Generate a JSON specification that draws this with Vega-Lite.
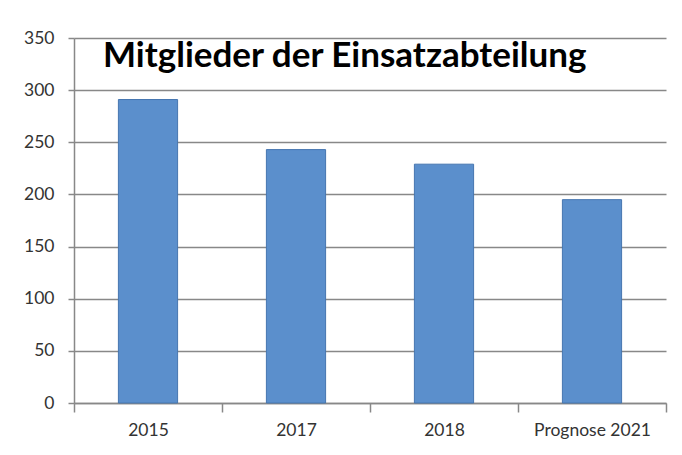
{
  "$schema": "https://vega.github.io/schema/vega-lite/v6.json",
  "autosize": "none",
  "width": 592,
  "height": 365,
  "padding": {"left": 74, "top": 38, "right": 16, "bottom": 52},
  "background": "white",
  "title": {
    "text": "Mitglieder der Einsatzabteilung",
    "orient": "top",
    "anchor": "start",
    "frame": "group",
    "baseline": "top",
    "offset": -3,
    "dx": 29,
    "dy": 42,
    "font": "Lato",
    "fontSize": 35,
    "fontWeight": "bold",
    "color": "#000000"
  },
  "data": {
    "values": [
      {"jahr": "2015", "mitglieder": 291},
      {"jahr": "2017", "mitglieder": 243},
      {"jahr": "2018", "mitglieder": 229},
      {"jahr": "Prognose 2021", "mitglieder": 195}
    ]
  },
  "mark": {"type": "bar", "color": "#5b8fcc", "stroke": "#4676b0", "strokeWidth": 1, "width": {"band": 0.4}},
  "encoding": {
    "x": {
      "field": "jahr",
      "type": "nominal",
      "sort": null,
      "scale": {"paddingInner": 0, "paddingOuter": 0},
      "axis": {
        "title": null,
        "labelAngle": 0,
        "tickBand": "extent",
        "tickSize": 9,
        "tickColor": "#888888",
        "tickWidth": 1.5,
        "domainColor": "#888888",
        "domainWidth": 1.5,
        "labelPadding": 9,
        "labelFont": "Lato",
        "labelFontSize": 17.5,
        "labelColor": "#333333",
        "grid": false
      }
    },
    "y": {
      "field": "mitglieder",
      "type": "quantitative",
      "scale": {"domain": [0, 350], "nice": false},
      "axis": {
        "title": null,
        "values": [0, 50, 100, 150, 200, 250, 300, 350],
        "tickSize": 6,
        "tickColor": "#888888",
        "tickWidth": 1.5,
        "domainColor": "#888888",
        "domainWidth": 1.5,
        "gridColor": "#888888",
        "gridWidth": 1.5,
        "labelPadding": 14,
        "labelFont": "Lato",
        "labelFontSize": 17.5,
        "labelColor": "#333333"
      }
    }
  },
  "config": {"view": {"stroke": null}}
}
